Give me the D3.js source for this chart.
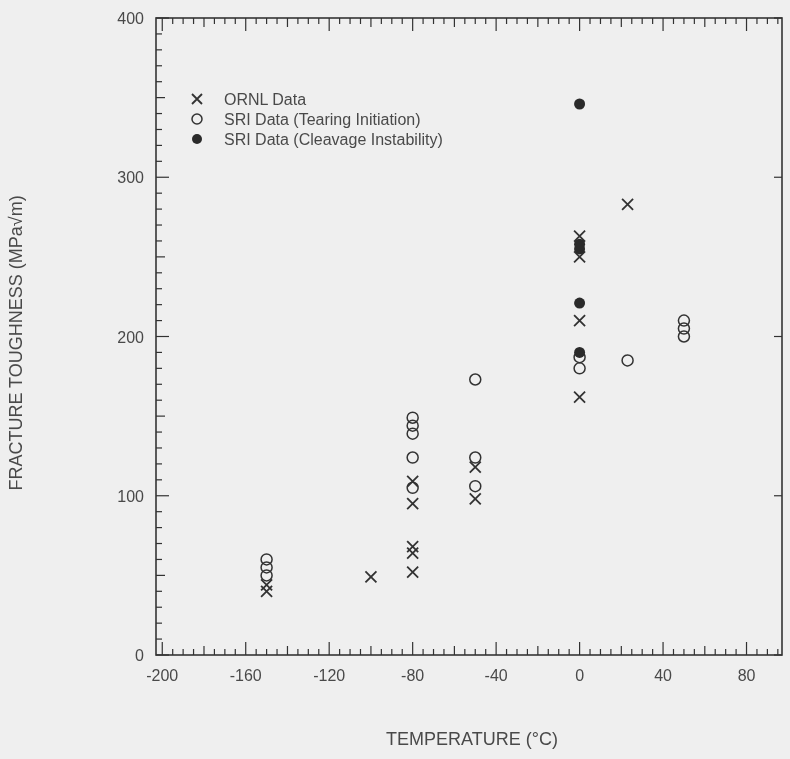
<!DOCTYPE html>
<html>
<head>
<meta charset="utf-8">
<script src="https://cdn.jsdelivr.net/npm/d3@7"></script>
<style>
  body { margin: 0; background: #efefef; }
  svg { display: block; }
  text { font-family: "Liberation Sans", Arial, sans-serif; fill: #4a4a4a; }
</style>
</head>
<body>
<script>
// Chart data
var ornlTemp = [-150, -150, -100, -80, -80, -80, -80, -80, -50, -50, 0, 0, 0, 0, 23];
var ornlK    = [44, 40, 49, 68, 64, 52, 109, 95, 118, 98, 263, 250, 210, 162, 283];

var tearTemp = [-150, -150, -150, -80, -80, -80, -80, -80, -50, -50, -50, 0, 0, 23, 50, 50, 50];
var tearK    = [60, 55, 50, 149, 144, 139, 124, 105, 173, 124, 106, 187, 180, 185, 210, 205, 200];

var cleavTemp = [0, 0, 0, 0, 0];
var cleavK    = [346, 258, 255, 221, 190];

var xTickValues = [-200, -160, -120, -80, -40, 0, 40, 80];
var yTickValues = [0, 100, 200, 300, 400];

var legendLabels = ["ORNL Data", "SRI Data (Tearing Initiation)", "SRI Data (Cleavage Instability)"];

function main() {
  var width = 790;
  var height = 759;
  var ink = "#333";

  var svg = d3.select("body")
    .append("svg")
    .attr("width", width)
    .attr("height", height);

  // slight softening, the original is a scan
  svg.append("defs").append("filter")
    .attr("id", "soft")
    .append("feGaussianBlur")
    .attr("stdDeviation", 0.45);

  var g = svg.append("g").attr("filter", "url(#soft)");

  var x = d3.scaleLinear().domain([-203, 97]).range([156, 782]);
  var y = d3.scaleLinear().domain([0, 400]).range([655, 18]);

  var x0 = x.range()[0], x1 = x.range()[1];
  var y0 = y.range()[0], y1 = y.range()[1];

  // frame
  g.append("rect")
    .attr("x", x0).attr("y", y1)
    .attr("width", x1 - x0).attr("height", y0 - y1)
    .attr("fill", "none")
    .attr("stroke", ink)
    .attr("stroke-width", 1.6);

  // x ticks every 5 degrees, bottom and top, pointing inward
  var xMinor = d3.range(-200, 96, 5);
  function xLen(d) { return d % 40 === 0 ? 13 : (d % 20 === 0 ? 9 : 6); }
  g.selectAll(".xb").data(xMinor).enter().append("line")
    .attr("x1", function(d) { return x(d); })
    .attr("x2", function(d) { return x(d); })
    .attr("y1", y0)
    .attr("y2", function(d) { return y0 - xLen(d); })
    .attr("stroke", ink).attr("stroke-width", 1.2);
  g.selectAll(".xt").data(xMinor).enter().append("line")
    .attr("x1", function(d) { return x(d); })
    .attr("x2", function(d) { return x(d); })
    .attr("y1", y1)
    .attr("y2", function(d) { return y1 + xLen(d); })
    .attr("stroke", ink).attr("stroke-width", 1.2);

  // y ticks every 10, left side; right side majors only
  var yMinor = d3.range(0, 401, 10);
  function yLen(d) { return d % 100 === 0 ? 13 : (d % 50 === 0 ? 9 : 6); }
  g.selectAll(".yl").data(yMinor).enter().append("line")
    .attr("x1", x0)
    .attr("x2", function(d) { return x0 + yLen(d); })
    .attr("y1", function(d) { return y(d); })
    .attr("y2", function(d) { return y(d); })
    .attr("stroke", ink).attr("stroke-width", 1.2);
  g.selectAll(".yr").data(yTickValues).enter().append("line")
    .attr("x1", x1)
    .attr("x2", x1 - 8)
    .attr("y1", function(d) { return y(d); })
    .attr("y2", function(d) { return y(d); })
    .attr("stroke", ink).attr("stroke-width", 1.2);

  // tick labels
  g.selectAll(".xl").data(xTickValues).enter().append("text")
    .attr("x", function(d) { return x(d); })
    .attr("y", y0 + 26)
    .attr("text-anchor", "middle")
    .attr("font-size", 16)
    .text(function(d) { return d; });
  g.selectAll(".ylab").data(yTickValues).enter().append("text")
    .attr("x", x0 - 12)
    .attr("y", function(d) { return y(d) + 6; })
    .attr("text-anchor", "end")
    .attr("font-size", 16)
    .text(function(d) { return d; });

  // axis titles
  g.append("text")
    .attr("x", 472)
    .attr("y", 745)
    .attr("text-anchor", "middle")
    .attr("font-size", 18)
    .text("TEMPERATURE (°C)");
  g.append("text")
    .attr("transform", "translate(22,343) rotate(-90)")
    .attr("text-anchor", "middle")
    .attr("font-size", 18)
    .text("FRACTURE TOUGHNESS (MPa\u221Am)");

  // markers
  function cross(sel, cx, cy, s) {
    sel.append("path")
      .attr("d", "M" + (cx - s) + "," + (cy - s) + "L" + (cx + s) + "," + (cy + s) +
                 "M" + (cx - s) + "," + (cy + s) + "L" + (cx + s) + "," + (cy - s))
      .attr("stroke", ink).attr("stroke-width", 1.8).attr("fill", "none");
  }

  ornlTemp.forEach(function(t, i) { cross(g, x(t), y(ornlK[i]), 5.5); });

  g.selectAll(".tear").data(tearTemp).enter().append("circle")
    .attr("cx", function(d) { return x(d); })
    .attr("cy", function(d, i) { return y(tearK[i]); })
    .attr("r", 5.5)
    .attr("fill", "none")
    .attr("stroke", ink).attr("stroke-width", 1.5);

  g.selectAll(".cleav").data(cleavTemp).enter().append("circle")
    .attr("cx", function(d) { return x(d); })
    .attr("cy", function(d, i) { return y(cleavK[i]); })
    .attr("r", 5.5)
    .attr("fill", "#2a2a2a");

  // legend
  var ly = [99, 119, 139];
  var lx = 197;
  cross(g, lx, ly[0], 5);
  g.append("circle").attr("cx", lx).attr("cy", ly[1]).attr("r", 5)
    .attr("fill", "none").attr("stroke", ink).attr("stroke-width", 1.5);
  g.append("circle").attr("cx", lx).attr("cy", ly[2]).attr("r", 5)
    .attr("fill", "#2a2a2a");
  g.selectAll(".leg").data(legendLabels).enter().append("text")
    .attr("x", lx + 27)
    .attr("y", function(d, i) { return ly[i] + 6; })
    .attr("font-size", 16)
    .text(function(d) { return d; });
}

main();
</script>
</body>
</html>
